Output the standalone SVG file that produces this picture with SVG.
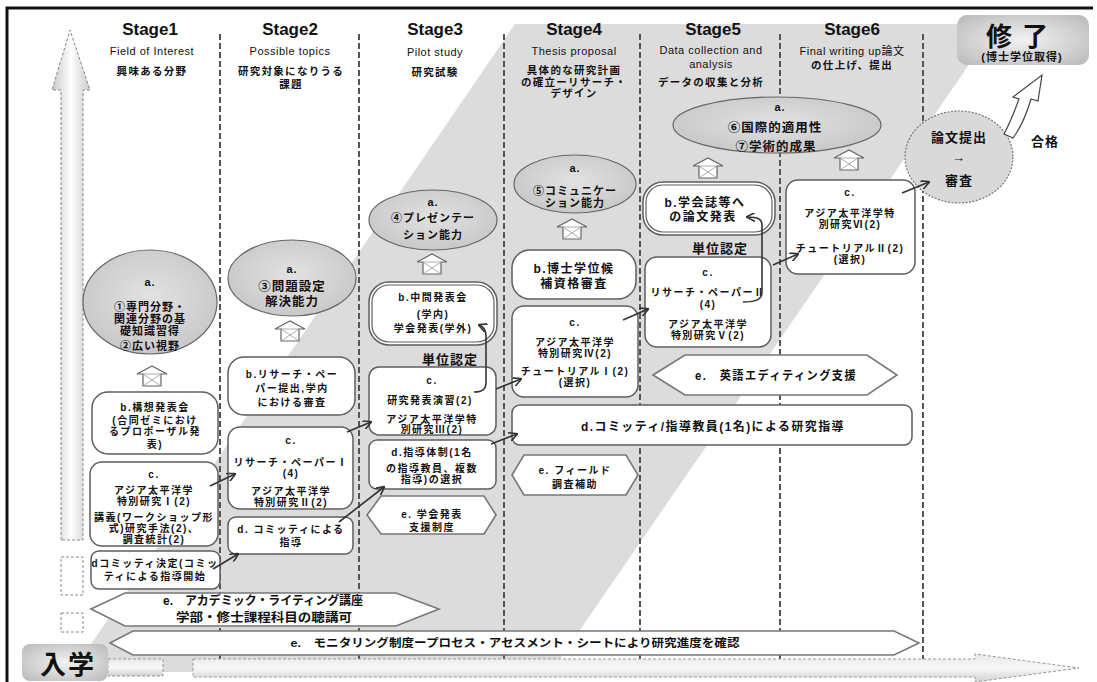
<svg xmlns="http://www.w3.org/2000/svg" width="1097" height="682" viewBox="0 0 1097 682">
<style>
.sep{stroke:#555;stroke-width:2;stroke-dasharray:6 3;fill:none}
.box{fill:#fff;stroke:#5e5e5e;stroke-width:1.5}
.hex{fill:#fff;stroke:#777;stroke-width:1.6}
.ell{fill:url(#eg);stroke:#666;stroke-width:1.2}
.conn{stroke:#333;stroke-width:1.6;fill:none;marker-end:url(#ah)}
text{font-family:"Liberation Sans","Noto Sans CJK JP",sans-serif;fill:#111;text-anchor:middle}
.t{font-size:10px;font-weight:bold;letter-spacing:1.5px}
.e{font-size:11px;font-weight:bold;letter-spacing:1px}
.el{font-size:12.5px;font-weight:bold;letter-spacing:1px}
.hdr{font-size:17px;font-weight:bold}
.en{font-size:11px;letter-spacing:0.5px}
.jp{font-size:10.5px;font-weight:bold;letter-spacing:1.3px}
.big{font-size:12px;font-weight:bold;letter-spacing:1.5px}
.uni{font-size:13px;font-weight:bold;letter-spacing:1px}
</style>
<defs>
<marker id="ah" viewBox="0 0 10 10" refX="9" refY="5" markerWidth="9" markerHeight="9" markerUnits="userSpaceOnUse" orient="auto">
<path d="M0,0 L10,5 L0,10" fill="none" stroke="#333" stroke-width="1.8"/>
</marker>
<radialGradient id="eg" cx="50%" cy="45%" r="60%">
<stop offset="0" stop-color="#e2e2e2"/><stop offset="1" stop-color="#c6c6c6"/>
</radialGradient>
<linearGradient id="vg" x1="0" x2="1" y1="0" y2="0">
<stop offset="0" stop-color="#c8c8c8"/><stop offset="0.5" stop-color="#ffffff"/><stop offset="1" stop-color="#c8c8c8"/>
</linearGradient>
<linearGradient id="hg" x1="0" x2="0" y1="0" y2="1">
<stop offset="0" stop-color="#e8e8e8"/><stop offset="0.5" stop-color="#f8f8f8"/><stop offset="1" stop-color="#d0d0d0"/>
</linearGradient>
<radialGradient id="bg" cx="50%" cy="50%" r="65%">
<stop offset="0" stop-color="#f2f2f2"/><stop offset="1" stop-color="#bdbdbd"/>
</radialGradient>
<g id="ha">
<polygon points="-15,8 0,0 15,8 9,8 9,20 -9,20 -9,8" fill="#fff" stroke="#666" stroke-width="1.2"/>
<path d="M-9,8 L9,20 M9,8 L-9,20 M-9,8 L9,8" stroke="#999" stroke-width="0.8" fill="none"/>
</g>
</defs>

<rect x="0" y="0" width="1097" height="682" fill="#fff"/>
<polygon points="515,24 997,24 551,672 72,672" fill="#dcdcdc"/>
<path d="M7,682 L7,8 L1093,8" fill="none" stroke="#111" stroke-width="3"/>

<g id="timeline-up">
<path d="M61,540 L61,90 L52,90 L70,30 L90,90 L83,90 L83,540 Z" fill="url(#vg)" stroke="#888" stroke-width="1" stroke-dasharray="3 2"/>
<rect x="61" y="557" width="22" height="38" fill="#fff" stroke="#888" stroke-dasharray="3 2"/>
<rect x="61" y="613" width="22" height="19" fill="#fff" stroke="#888" stroke-dasharray="3 2"/>
</g>

<g id="separators">
<line class="sep" x1="220" y1="34" x2="220" y2="660"/>
<line class="sep" x1="359" y1="34" x2="359" y2="660"/>
<line class="sep" x1="504" y1="34" x2="504" y2="660"/>
<line class="sep" x1="640" y1="34" x2="640" y2="660"/>
<line class="sep" x1="780" y1="34" x2="780" y2="660"/>
<line class="sep" x1="923" y1="34" x2="923" y2="660"/>
</g>

<g id="timeline-right">
<rect x="108" y="659" width="55" height="17" fill="url(#hg)" stroke="#999" stroke-dasharray="3 2"/>
<path d="M193,659 L975,659 L975,654 L1079,668 L975,682 L975,677 L193,677 Z" fill="url(#hg)" stroke="#999" stroke-dasharray="3 2"/>
</g>

<g id="headers">
<text class="hdr" x="150" y="35">Stage1</text>
<text class="en" x="152" y="55">Field of Interest</text>
<text class="jp" x="152" y="75">興味ある分野</text>
<text class="hdr" x="290" y="35">Stage2</text>
<text class="en" x="290" y="55">Possible topics</text>
<text class="jp" x="291" y="75">研究対象になりうる</text>
<text class="jp" x="291" y="88">課題</text>
<text class="hdr" x="435" y="35">Stage3</text>
<text class="en" x="435" y="56">Pilot study</text>
<text class="jp" x="435" y="76">研究試験</text>
<text class="hdr" x="574" y="35">Stage4</text>
<text class="en" x="574" y="55">Thesis proposal</text>
<text class="jp" x="574" y="74">具体的な研究計画</text>
<text class="jp" x="574" y="86">の確立ーリサーチ・</text>
<text class="jp" x="574" y="97">デザイン</text>
<text class="hdr" x="713" y="35">Stage5</text>
<text class="en" x="711" y="54">Data collection and</text>
<text class="en" x="711" y="68">analysis</text>
<text class="jp" x="711" y="86">データの収集と分析</text>
<text class="hdr" x="852" y="35">Stage6</text>
<text class="en" x="852" y="55">Final writing up論文</text>
<text class="jp" x="852" y="69">の仕上げ、提出</text>
</g>

<g id="finish">
<rect x="957" y="15" width="132" height="50" rx="10" fill="url(#bg)"/>
<text x="1022" y="46" style="font-size:26px;font-weight:bold;letter-spacing:10px">修了</text>
<text x="1022" y="61" style="font-size:11px;font-weight:bold;letter-spacing:1px">(博士学位取得)</text>
</g>

<g id="entry">
<rect x="22" y="644" width="86" height="37" rx="8" fill="url(#bg)"/>
<text x="68" y="674" style="font-size:26px;font-weight:bold;letter-spacing:2px">入学</text>
</g>

<g id="s1-a">
<ellipse class="ell" cx="150" cy="302" rx="67" ry="52"/>
<text class="e" x="150" y="286">a.</text>
<text class="e" x="150" y="311">①専門分野・</text>
<text class="e" x="150" y="323">関連分野の基</text>
<text class="e" x="150" y="335">礎知識習得</text>
<text class="e" x="150" y="350">②広い視野</text>
</g>
<use href="#ha" x="152" y="366"/>
<g id="s1-b">
<rect class="box" x="92" y="392" width="126" height="62" rx="16"/>
<text class="t" x="155" y="411">b.構想発表会</text>
<text class="t" x="155" y="424">(合同ゼミにおけ</text>
<text class="t" x="155" y="435">るプロポーザル発</text>
<text class="t" x="155" y="448">表)</text>
</g>
<g id="s1-c">
<rect class="box" x="90" y="462" width="128" height="84" rx="12"/>
<text class="t" x="154" y="478">c.</text>
<text class="t" x="154" y="494">アジア太平洋学</text>
<text class="t" x="154" y="505">特別研究Ⅰ(2)</text>
<text class="t" x="154" y="521">講義(ワークショップ形</text>
<text class="t" x="154" y="532">式)研究手法(2)、</text>
<text class="t" x="154" y="543">調査統計(2)</text>
</g>
<g id="s1-d">
<rect class="box" x="91" y="551" width="129" height="38" rx="8"/>
<text class="t" x="155" y="567">dコミッティ決定(コミッ</text>
<text class="t" x="155" y="580">ティによる指導開始</text>
</g>

<g id="s2-a">
<ellipse class="ell" cx="292" cy="278" rx="64" ry="38"/>
<text class="e" x="292" y="273">a.</text>
<text class="el" x="292" y="291">③問題設定</text>
<text class="el" x="292" y="306">解決能力</text>
</g>
<use href="#ha" x="290" y="321"/>
<g id="s2-b">
<rect class="box" x="228" y="357" width="127" height="58" rx="16"/>
<text class="t" x="292" y="378">b.リサーチ・ペー</text>
<text class="t" x="292" y="392">パー提出,学内</text>
<text class="t" x="292" y="406">における審査</text>
</g>
<g id="s2-c">
<rect class="box" x="228" y="427" width="125" height="82" rx="12"/>
<text class="t" x="291" y="444">c.</text>
<text class="t" x="291" y="466">リサーチ・ペーパーⅠ</text>
<text class="t" x="291" y="477">(4)</text>
<text class="t" x="291" y="495">アジア太平洋学</text>
<text class="t" x="291" y="506">特別研究Ⅱ(2)</text>
</g>
<g id="s2-d">
<rect class="box" x="228" y="517" width="125" height="37" rx="8"/>
<text class="t" x="291" y="533">d. コミッティによる</text>
<text class="t" x="291" y="546">指導</text>
</g>

<g id="s3-a">
<ellipse class="ell" cx="433" cy="220" rx="64" ry="30"/>
<text class="e" x="433" y="206">a.</text>
<text class="e" x="433" y="222">④プレゼンテー</text>
<text class="e" x="433" y="239">ション能力</text>
</g>
<use href="#ha" x="432" y="254"/>
<g id="s3-b">
<rect class="box" x="369" y="282" width="128" height="63" rx="20"/>
<rect x="372" y="285" width="122" height="57" rx="17" fill="none" stroke="#5e5e5e" stroke-width="1.2"/>
<text class="t" x="433" y="301">b.中間発表会</text>
<text class="t" x="433" y="318">(学内)</text>
<text class="t" x="433" y="332">学会発表(学外)</text>
</g>
<text class="uni" x="450" y="364">単位認定</text>
<g id="s3-c">
<rect class="box" x="369" y="367" width="127" height="68" rx="10"/>
<text class="t" x="432" y="384">c.</text>
<text class="t" x="430" y="404">研究発表演習(2)</text>
<text class="t" x="432" y="423">アジア太平洋学特</text>
<text class="t" x="432" y="433">別研究Ⅲ(2)</text>
</g>
<g id="s3-d">
<rect class="box" x="369" y="440" width="127" height="49" rx="8"/>
<text class="t" x="432" y="456">d.指導体制(1名</text>
<text class="t" x="432" y="472">の指導教員、複数</text>
<text class="t" x="432" y="483">指導)の選択</text>
</g>
<g id="s3-e">
<polygon class="hex" points="367,515 381,496 484,496 496,515 484,534 381,534"/>
<text class="t" x="432" y="518">e. 学会発表</text>
<text class="t" x="432" y="531">支援制度</text>
</g>

<g id="s4-a">
<ellipse class="ell" cx="575" cy="184" rx="61" ry="29"/>
<text class="e" x="575" y="172">a.</text>
<text class="e" x="575" y="195">⑤コミュニケー</text>
<text class="e" x="575" y="207">ション能力</text>
</g>
<use href="#ha" x="572" y="219"/>
<g id="s4-b">
<rect class="box" x="512" y="250" width="124" height="49" rx="18"/>
<text class="big" x="574" y="273">b.博士学位候</text>
<text class="big" x="574" y="288">補資格審査</text>
</g>
<g id="s4-c">
<rect class="box" x="512" y="306" width="126" height="91" rx="12"/>
<text class="t" x="575" y="326">c.</text>
<text class="t" x="575" y="346">アジア太平洋学</text>
<text class="t" x="575" y="357">特別研究Ⅳ(2)</text>
<text class="t" x="575" y="375">チュートリアルⅠ(2)</text>
<text class="t" x="575" y="386">(選択)</text>
</g>
<g id="s4-e">
<polygon class="hex" points="512,475 524,455 626,455 638,475 626,495 524,495"/>
<text class="t" x="575" y="474">e. フィールド</text>
<text class="t" x="575" y="488">調査補助</text>
</g>
<g id="d-wide">
<rect class="box" x="512" y="405" width="400" height="40" rx="8"/>
<text class="big" x="713" y="431" textLength="264" lengthAdjust="spacingAndGlyphs">d.コミッティ/指導教員(1名)による研究指導</text>
</g>

<g id="s5-a">
<ellipse class="ell" cx="777" cy="125" rx="104" ry="28"/>
<text class="e" x="780" y="111">a.</text>
<text class="el" x="775" y="132">⑥国際的適用性</text>
<text class="el" x="776" y="151">⑦学術的成果</text>
</g>
<use href="#ha" x="708" y="158"/>
<g id="s5-b">
<rect class="box" x="643" y="182" width="132" height="53" rx="20"/>
<rect x="646" y="185" width="126" height="47" rx="17" fill="none" stroke="#5e5e5e" stroke-width="1.2"/>
<text class="big" x="705" y="207">b.学会誌等へ</text>
<text class="big" x="703" y="221">の論文発表</text>
</g>
<text class="uni" x="720" y="253">単位認定</text>
<g id="s5-c">
<rect class="box" x="645" y="257" width="126" height="90" rx="12"/>
<text class="t" x="708" y="276">c.</text>
<text class="t" x="708" y="296">リサーチ・ペーパーⅡ</text>
<text class="t" x="708" y="308">(4)</text>
<text class="t" x="708" y="328">アジア太平洋学</text>
<text class="t" x="708" y="339">特別研究Ⅴ(2)</text>
</g>
<g id="s5-e">
<polygon class="hex" points="653,375 685,355 867,355 897,375 867,395 685,395"/>
<text class="big" x="776" y="380" textLength="162" lengthAdjust="spacingAndGlyphs">e.　英語エディティング支援</text>
</g>

<use href="#ha" x="849" y="150"/>
<g id="s6-c">
<rect class="box" x="786" y="180" width="129" height="94" rx="12"/>
<text class="t" x="850" y="196">c.</text>
<text class="t" x="850" y="217">アジア太平洋学特</text>
<text class="t" x="850" y="228">別研究Ⅵ(2)</text>
<text class="t" x="850" y="252">チュートリアルⅡ(2)</text>
<text class="t" x="850" y="263">(選択)</text>
</g>

<g id="exam">
<ellipse cx="959" cy="157" rx="54" ry="46" fill="#d9d9d9" stroke="#777" stroke-width="1.2" stroke-dasharray="2 1.5"/>
<text class="uni" x="959" y="142">論文提出</text>
<text class="uni" x="959" y="162">→</text>
<text class="uni" x="959" y="185">審査</text>
</g>
<text class="uni" x="1045" y="146">合格</text>
<path id="pass-arrow" d="M1004,134 C1011,121 1015,110 1019,99 L1013,97 L1042,75 L1038,101 L1031,99 C1027,113 1021,127 1013,138 Z" fill="#fff" stroke="#444" stroke-width="1.2"/>

<g id="s1-e">
<polygon class="hex" points="91,609 125,593 396,593 439,609 396,626 125,626"/>
<text x="263" y="605" style="font-size:12px;font-weight:bold" textLength="200" lengthAdjust="spacingAndGlyphs">e.　アカデミック・ライティング講座</text>
<text x="264" y="622" style="font-size:12.5px;font-weight:bold" textLength="176" lengthAdjust="spacingAndGlyphs">学部・修士課程科目の聴講可</text>
</g>
<g id="monitor">
<polygon class="hex" points="110,643 133,631 894,631 919,643 894,655 133,655"/>
<text x="515" y="647" style="font-size:11.5px;font-weight:bold" textLength="449" lengthAdjust="spacingAndGlyphs">e.　モニタリング制度ープロセス・アセスメント・シートにより研究進度を確認</text>
</g>

<g id="connectors">
<line class="conn" x1="210" y1="486" x2="235" y2="474"/>
<line class="conn" x1="213" y1="569" x2="238" y2="554"/>
<line class="conn" x1="347" y1="432" x2="371" y2="422"/>
<line class="conn" x1="339" y1="522" x2="384" y2="487"/>
<line class="conn" x1="496" y1="389" x2="521" y2="379"/>
<line class="conn" x1="491" y1="444" x2="517" y2="434"/>
<line class="conn" x1="623" y1="320" x2="648" y2="309"/>
<line class="conn" x1="773" y1="265" x2="798" y2="254"/>
<line class="conn" x1="902" y1="193" x2="929" y2="182"/>
<path class="conn" d="M474,392 C483,392 486,389 486,382 L486,336 C486,330 484,327 479,325"/>
<path class="conn" d="M743,302 C757,302 762,299 762,292 L762,225 C762,219 758,217 747,217"/>
</g>
</svg>
